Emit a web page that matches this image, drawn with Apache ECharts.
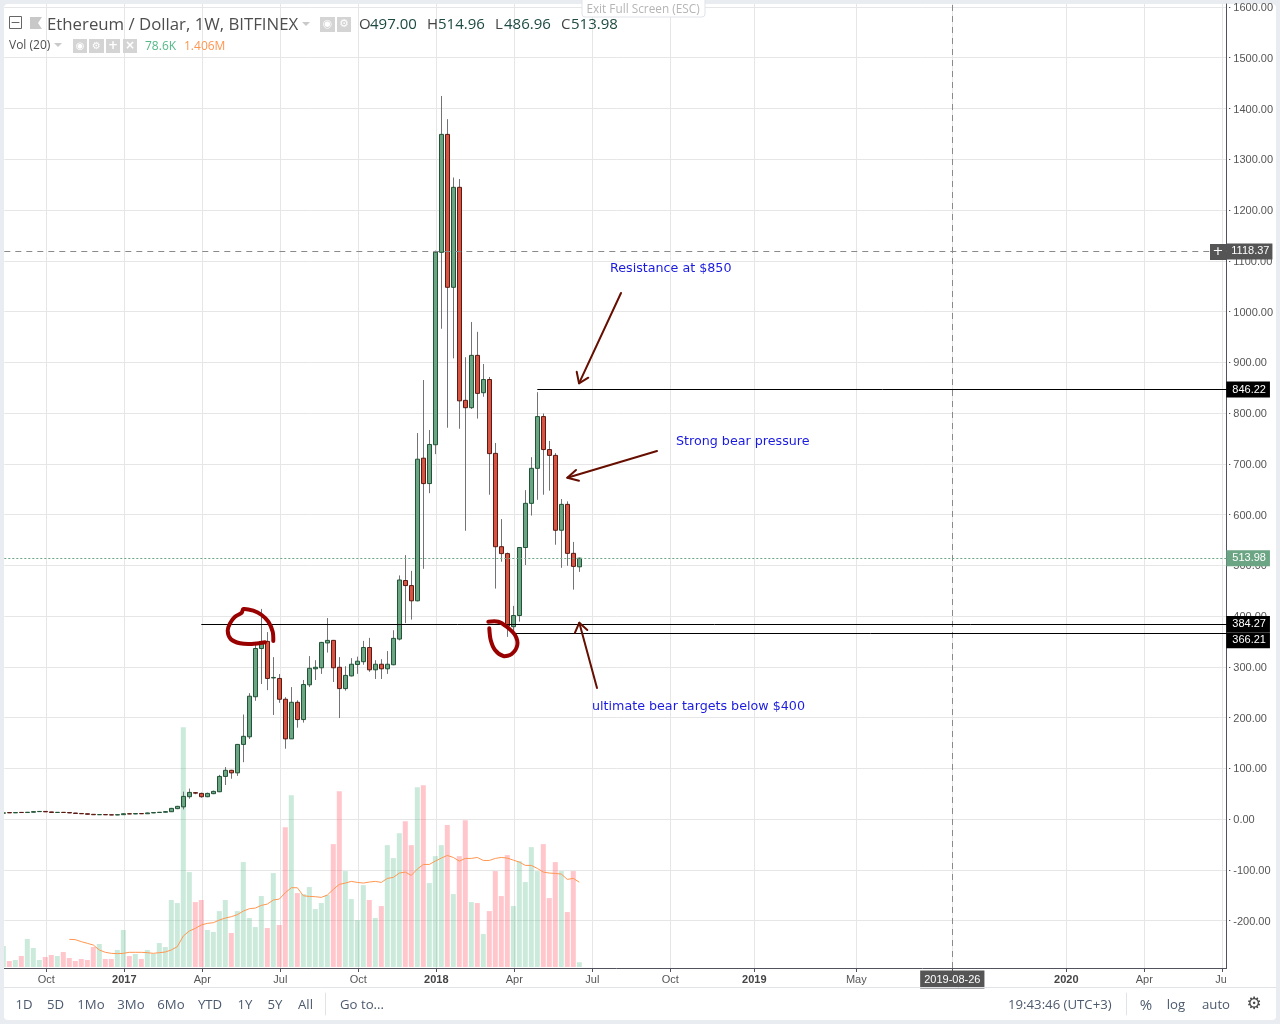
<!DOCTYPE html>
<html>
<head>
<meta charset="utf-8">
<title>Ethereum / Dollar</title>
<script src="https://cdn.jsdelivr.net/npm/echarts@6/dist/echarts.min.js"></script>
<style>
  html, body { margin: 0; height: 100%; background: #e9ecf0; overflow: hidden; }
  #panel { position: absolute; left: 4px; top: 4px; width: 1272px; height: 1016px; background: #fff; border-radius: 4px; }
  #main { position: absolute; left: 0; top: 0; width: 1280px; height: 1024px; }
</style>
</head>
<body>
<div id="panel"></div>
<div id="main"></div>
<script>
// weekly candles, oldest first: [open, close, low, high]
var candles = [
  [11.5,12.2,11,12.6],[12.8,12.2,11.8,13],[12.2,12.9,11.9,13.2],[13.1,12.8,12.5,13.4],[12.8,13.4,12.4,13.7],
  [13.4,14.6,13,15.2],[14.6,15,14.2,15.6],[15,14.2,13.8,15.3],[14,13,12.8,14.2],[12.9,13.2,12.7,13.5],
  [13.2,12.9,12.6,13.4],[12.9,12,11.6,13.2],[11.9,11,10.6,12.1],[11,10.4,10,11.2],[10.4,9.4,9,10.6],
  [9.3,8.5,8.2,9.5],[8.5,8.8,8.2,9],[8.8,8.4,8.1,9],[8.4,8,7.8,8.6],[8,8.6,7.8,8.8],
  [8.6,10.4,8.4,11],[10.4,10,9.8,11.6],[10,10.8,9.6,11.2],[10.8,10.4,10.2,11],[10.4,12,10.2,12.4],
  [12,12.8,11.6,13],[12.8,13.4,12.4,13.8],[13.4,14.6,13,15],[14.4,21,14,22],[20.5,25,19.5,26],
  [24,44.6,19,54],[44,52.5,40,60],[52,51,49,53],[50.5,44,42,52],[44,50.5,43,52],
  [50,54.5,49,56],[53.8,84,53,87],[84,96,67,102.4],[96,91,79.4,97],[91,147,85,148],
  [147,163,112,206],[162,242,157.6,248],[241,336,233,349],[336,350,266,414],[350,277,254,368.4],
  [278,279,205,319],[277,236,229,285.7],[236,158,138.6,240],[158,230,158,260],[230,196,180,234],
  [196,265,190,274],[264.5,297,260,321],[296,299,274,313],[298,348,286,349],[347,352,328,396],
  [352,298,270,353],[299,257,199,319],[257,283,253,301],[282,305,281,317],[304.5,311,286,320],
  [310,338,304,351],[338,294,290,357],[294,305,276,313],[305,296,276,315],[296,305,286,331],
  [304,356,303,372],[354.6,471,352,480],[470,460,386,520],[460,430,393,489],[430,709,429,760.5],
  [711,661,493,865],[661,738,642,766.5],[737.5,1117,719,1120],[1116.6,1349,966,1424.7],[1349,1047.7,771,1379],
  [1047.7,1244.7,907.7,1264],[1244.7,824,769,1261],[825,810.5,568,910],[810.5,913.6,808,979.4],[913.6,838.7,789,960],
  [840,866,832,896.5],[866,720,639,871],[720.5,536.6,454,741],[536.6,523,507,591],[523,380,359,525],
  [379,401,367,420],[401,535,389,536],[535,622,500.5,648],[622,691,598,713],[691,793,629,841],
  [793,728,639,799],[728,716.5,647,745],[716.5,569,540.5,721],[569,620,495,630.5],[620,523.5,499,626],
  [523.5,497.8,452,546],[497,513.98,486.96,514.96]
];

// volume per week, in thousands
var volumes = [
  348,99,116,182,464,315,116,166,199,182,248,149,99,132,116,331,381,132,132,282,
  613,182,215,132,282,215,397,331,1110,1060,3974,1573,1076,1110,613,580,927,1110,563,927,
  1739,811,662,1176,646,1557,696,2318,2848,1225,1209,1325,960,1060,1192,2037,2915,1590,1126,778,
  1358,1110,811,1010,2020,1805,2219,2418,2020,2981,3014,1391,1838,2020,2352,1209,1838,2434,1076,1060,
  546,927,1590,1176,1855,1010,1755,1408,1987,1590,2037,1143,1739,1590,911,1590,78.6
];

// Vol (20) moving average, in thousands; starts at week 11
var volumeMa = [
  null,null,null,null,null,null,null,null,null,null,null,
  458,453,420,392,364,282,243,226,221,226,243,243,243,237,226,237,248,282,337,
  513,596,640,696,723,734,778,811,834,867,927,966,977,1021,1043,1110,1126,1231,1314,1314,
  1181,1170,1165,1154,1192,1286,1369,1391,1419,1402,1391,1408,1419,1402,1468,1485,1557,1573,1518,1623,
  1700,1700,1755,1805,1849,1816,1755,1800,1800,1816,1766,1766,1800,1816,1805,1772,1739,1684,1684,1634,
  1573,1557,1551,1540,1452,1468,1406
];

var priceTicks = [-200,-100,0,100,200,300,400,500,600,700,800,900,1000,1100,1200,1300,1400,1500,1600];
var timeTickIndex = [7,20,33,46,59,72,85,98,111,125,142,158,177,190,203];
var timeTickText = ['Oct','{b|2017}','Apr','Jul','Oct','{b|2018}','Apr','Jul','Oct','{b|2019}','May','{c|2019-08-26}','{b|2020}','Apr','Jul'];

var lastPrice = 513.98;
var crossPrice = 1118.37;
var crossIndex = 158;
var resistance = {value: 846.22, from: 89, shift: 0};
var supportHigh = {value: 384.27, from: 33, shift: 0};
var supportLow = {value: 366.21, from: 85, shift: 7};

var weekCount = 205;
var categories = [];
for (var i = 0; i < weekCount; i++) categories.push('w' + i);

var UP = '#6ba583', DOWN = '#d75442', UP_EDGE = '#225437', DOWN_EDGE = '#5b1a13', WICK = '#737375';
var AXIS_FONT = '"Liberation Sans", Arial, sans-serif';
var UI_FONT = '"Open Sans", sans-serif';

// body only: low and high collapsed on open and close
var bodies = candles.map(function (c) {
  return [c[0], c[1], Math.min(c[0], c[1]), Math.max(c[0], c[1])];
});

function boxLabel(str, color, dy) {
  return {show: true, position: 'end', distance: 0, offset: [-1, dy || 0], formatter: str,
    color: '#fff', fontSize: 11, fontFamily: AXIS_FONT, backgroundColor: color, padding: [3, 4, 2, 6]};
}
function priceLine(target, color, boxColor) {
  return [
    {xAxis: target.from, yAxis: target.value, lineStyle: {color: color, type: 'solid', width: 1}},
    {xAxis: weekCount - 1, yAxis: target.value, label: boxLabel(target.value.toFixed(2), boxColor, target.shift)}
  ];
}

// ui helpers, everything below is chart chrome and hand drawn notes
function text(x, y, str, font, fill, align) {
  return {type: 'text', x: x, y: y, z: 20, silent: true,
    style: {text: str, font: font, fill: fill, textAlign: align || 'left', textVerticalAlign: 'middle'}};
}
function box(x, y, w, h, fill, stroke, r) {
  return {type: 'rect', z: 20, silent: true, shape: {x: x, y: y, width: w, height: h, r: r || 0},
    style: {fill: fill, stroke: stroke || null, lineWidth: 1}};
}
function stroke(points, color, width, smooth) {
  return {type: 'polyline', z: 20, silent: true, shape: {points: points, smooth: smooth || 0},
    style: {stroke: color, lineWidth: width, fill: null, lineCap: 'round', lineJoin: 'round'}};
}

var TOOL = '13.2px ' + UI_FONT;
var toolColor = '#4c5a6e';
var NOTE = '12.7px "DejaVu Sans", sans-serif';
var RED_INK = '#990000', BROWN_INK = '#660e00';

var graphics = [
  // covers for the grid lines and Jul label running past the price axis
  Object.assign(box(1227, 4, 2, 965, '#fff'), {z: 1}),
  Object.assign(box(1226, 970, 46, 16, '#fff'), {z: 1}),
  // first week is cut by the panel edge
  box(0, 0, 4, 1024, '#e9ecf0'),
  // toolbar separators and exit pill
  stroke([[4, 987.5], [1276, 987.5]], '#e0e3e8', 1),
  stroke([[325.5, 993], [325.5, 1015]], '#e0e3e8', 1),
  stroke([[1126.5, 993], [1126.5, 1015]], '#e0e3e8', 1),
  box(582, -4, 123, 21, '#fff', '#e0e3e8', 3),
  text(643, 9.5, 'Exit Full Screen (ESC)', '11.8px ' + UI_FONT, '#b5b5b5', 'center'),
  // header
  box(9.5, 16.5, 12, 12, 'none', '#666'),
  stroke([[12, 22.5], [19, 22.5]], '#666', 1),
  {type: 'polygon', z: 20, silent: true, shape: {points: [[30, 17], [42, 17], [38, 23], [42, 29], [30, 29]]}, style: {fill: '#c8c8c8'}},
  text(47, 25, 'Ethereum / Dollar, 1W, BITFINEX', '16.8px ' + UI_FONT, '#4e4e4e'),
  {type: 'polygon', z: 20, silent: true, shape: {points: [[302, 22], [310, 22], [306, 26]]}, style: {fill: '#c9c9c9'}},
  box(320, 17, 15, 15, '#d4d4d4'), box(337, 17, 14, 15, '#d4d4d4'),
  text(327.5, 24.5, '◉', '11px "DejaVu Sans"', '#fff', 'center'),
  text(344, 24.5, '⚙', '11px "DejaVu Sans"', '#fff', 'center'),
  text(359, 25, 'O', '15px ' + UI_FONT, '#444'), text(370, 25, '497.00', '15px ' + UI_FONT, '#1d4a42'),
  text(427, 25, 'H', '15px ' + UI_FONT, '#444'), text(438, 25, '514.96', '15px ' + UI_FONT, '#1d4a42'),
  text(495, 25, 'L', '15px ' + UI_FONT, '#444'), text(504, 25, '486.96', '15px ' + UI_FONT, '#1d4a42'),
  text(561, 25, 'C', '15px ' + UI_FONT, '#444'), text(571, 25, '513.98', '15px ' + UI_FONT, '#1d4a42'),
  text(9, 46, 'Vol (20)', '12px ' + UI_FONT, '#4e4e4e'),
  {type: 'polygon', z: 20, silent: true, shape: {points: [[54, 43], [62, 43], [58, 47]]}, style: {fill: '#c9c9c9'}},
  box(73, 39, 14, 14, '#d4d4d4'), box(89, 39, 15, 14, '#d4d4d4'), box(106, 39, 14, 14, '#d4d4d4'), box(123, 39, 14, 14, '#d4d4d4'),
  text(80, 46, '◉', '10px "DejaVu Sans"', '#fff', 'center'),
  text(96.5, 46, '⚙', '10px "DejaVu Sans"', '#fff', 'center'),
  text(113, 46, '+', 'bold 12px "DejaVu Sans"', '#fff', 'center'),
  text(130, 46, '×', 'bold 12px "DejaVu Sans"', '#fff', 'center'),
  text(145, 46.5, '78.6K', '12px ' + UI_FONT, '#53b987'),
  text(184, 46.5, '1.406M', '12px ' + UI_FONT, '#ff9650'),
  // crosshair plus button
  box(1210, 244, 16, 16, '#555'),
  text(1218, 252, '+', '13px "DejaVu Sans"', '#fff', 'center'),
  // bottom toolbar
  text(24, 1005.5, '1D', TOOL, toolColor, 'center'), text(55.5, 1005.5, '5D', TOOL, toolColor, 'center'),
  text(91, 1005.5, '1Mo', TOOL, toolColor, 'center'), text(131, 1005.5, '3Mo', TOOL, toolColor, 'center'),
  text(171, 1005.5, '6Mo', TOOL, toolColor, 'center'), text(210, 1005.5, 'YTD', TOOL, toolColor, 'center'),
  text(245, 1005.5, '1Y', TOOL, toolColor, 'center'), text(275, 1005.5, '5Y', TOOL, toolColor, 'center'),
  text(305.5, 1005.5, 'All', TOOL, toolColor, 'center'), text(340, 1005.5, 'Go to...', TOOL, toolColor),
  text(1008, 1005.5, '19:43:46 (UTC+3)', TOOL, toolColor),
  text(1146, 1005.5, '%', '15px ' + UI_FONT, toolColor, 'center'),
  text(1176, 1005.5, 'log', TOOL, toolColor, 'center'),
  text(1216, 1005.5, 'auto', TOOL, toolColor, 'center'),
  text(1254, 1005, '⚙', '17px "DejaVu Sans"', '#4a4a4a', 'center'),
  // hand drawn circles
  stroke([[273.3,641],[272.7,631.7],[268.3,621.7],[261.7,615],[253.3,610.7],[243.3,609],[241.7,612.7],[235,616.7],[230,623.3],[227.7,630.7],[230.7,639],[240,643.3],[251.7,644],[265,642.3]], RED_INK, 4, 0.3),
  stroke([[488.3,621.7],[498.3,621.7],[506.7,626.7],[515,635],[517.3,645],[511.7,654],[503.3,656],[495,650],[490.7,640],[489.3,628.3]], RED_INK, 4, 0.3),
  // arrows
  stroke([[621,293],[579,383.3]], BROWN_INK, 2), stroke([[576.7,371.7],[579,383.3],[588.3,377.7]], BROWN_INK, 2),
  stroke([[657,451],[567.3,477.7]], BROWN_INK, 2), stroke([[576,470],[567.3,477.7],[579,480.7]], BROWN_INK, 2),
  stroke([[597,688],[579.3,622.7]], BROWN_INK, 2), stroke([[575,632.7],[579.3,622.7],[587.3,630]], BROWN_INK, 2),
  // notes
  text(610, 269, 'Resistance at $850', NOTE, '#1a1ae0'),
  text(676, 442, 'Strong bear pressure', NOTE, '#1a1ae0'),
  text(592, 707, 'ultimate bear targets below $400', NOTE, '#1a1ae0')
];

var myChart = echarts.init(document.getElementById('main'), null, {renderer: 'canvas'});
myChart.setOption({
  animation: false,
  backgroundColor: 'transparent',
  grid: [
    // axes and grid lines
    {left: 4.3, top: 4, width: 1224, height: 964},
    // bars sit one pixel left of the time grid lines
    {left: 3.3, top: 4, width: 1224, height: 964}
  ],
  xAxis: [
    {
      type: 'category', gridIndex: 0, data: categories, boundaryGap: false,
      axisLine: {onZero: false, lineStyle: {color: '#50535e'}},
      axisTick: {length: 4, lineStyle: {color: '#50535e'}, interval: function (i) { return timeTickIndex.indexOf(i) >= 0; }},
      splitLine: {show: true, lineStyle: {color: '#e6e6e6'}, interval: function (i) { return timeTickIndex.indexOf(i) >= 0; }},
      axisLabel: {
        interval: function (i) { return timeTickIndex.indexOf(i) >= 0; },
        formatter: function (v, i) { return timeTickText[timeTickIndex.indexOf(i)]; },
        margin: 11.5, verticalAlign: 'middle', color: '#555', fontSize: 11, fontFamily: AXIS_FONT,
        rich: {
          b: {fontWeight: 'bold', color: '#444', fontSize: 11, fontFamily: AXIS_FONT},
          c: {backgroundColor: '#555', color: '#fff', fontSize: 11, fontFamily: AXIS_FONT, padding: [4, 4, 3, 4]}
        }
      }
    },
    {type: 'category', gridIndex: 1, data: categories, boundaryGap: false, show: false, axisLine: {onZero: false}}
  ],
  yAxis: [
    {
      type: 'value', gridIndex: 0, position: 'right', offset: -2, min: -293.5, max: 1605.9,
      axisLine: {show: true, lineStyle: {color: '#50535e'}},
      axisTick: {show: true, length: 4, lineStyle: {color: '#50535e'}, customValues: priceTicks},
      splitLine: {show: true, lineStyle: {color: '#e6e6e6'}},
      axisLabel: {customValues: priceTicks, margin: 7, verticalAlign: 'top', lineHeight: 2, color: '#555', fontSize: 11, fontFamily: AXIS_FONT,
        formatter: function (v) { return v.toFixed(2); }}
    },
    {type: 'value', gridIndex: 1, show: false, min: -293.5, max: 1605.9},
    {type: 'value', gridIndex: 1, show: false, min: -17, max: 15966}
  ],
  series: [
    {
      // crosshair on the axis grid
      type: 'line', xAxisIndex: 0, yAxisIndex: 0, data: [], silent: true,
      markLine: {
        silent: true, symbol: 'none', animation: false,
        lineStyle: {color: '#8a8a8a', type: [6, 5], width: 1},
        data: [
          {xAxis: crossIndex, label: {show: false}},
          {yAxis: crossPrice, label: Object.assign(boxLabel(crossPrice.toFixed(2), '#555'), {offset: [-2, 0], padding: [3, 3, 2, 5]})}
        ]
      }
    },
    {
      name: 'Volume', type: 'bar', xAxisIndex: 1, yAxisIndex: 2, barWidth: 5, data: volumes, z: 1,
      itemStyle: {color: function (p) {
        var c = candles[p.dataIndex];
        return c[1] >= c[0] ? 'rgba(83,185,135,0.3)' : 'rgba(255,109,120,0.38)';
      }}
    },
    {
      name: 'Vol MA', type: 'line', xAxisIndex: 1, yAxisIndex: 2, data: volumeMa, showSymbol: false, z: 2,
      lineStyle: {color: '#ff9650', width: 1}
    },
    {
      name: 'Wicks', type: 'candlestick', xAxisIndex: 1, yAxisIndex: 1, data: candles, barWidth: 1, z: 3,
      itemStyle: {color: WICK, color0: WICK, borderColor: WICK, borderColor0: WICK, borderColorDoji: WICK, borderWidth: 1}
    },
    {
      name: 'Bodies', type: 'candlestick', xAxisIndex: 1, yAxisIndex: 1, data: bodies, barWidth: 4, z: 4,
      itemStyle: {color: UP, color0: DOWN, borderColor: UP_EDGE, borderColor0: DOWN_EDGE, borderWidth: 1},
      markLine: {
        silent: true, symbol: 'none', animation: false, z: 6,
        data: [
          [{yAxis: lastPrice, x: 4.3, lineStyle: {color: UP, type: [2, 2], width: 1}},
           {yAxis: lastPrice, xAxis: weekCount - 1, label: boxLabel(lastPrice.toFixed(2), UP)}],
          priceLine(resistance, '#000', '#000'),
          priceLine(supportHigh, '#000', '#000'),
          priceLine(supportLow, '#000', '#000')
        ]
      }
    }
  ],
  graphic: graphics
});
</script>
</body>
</html>
